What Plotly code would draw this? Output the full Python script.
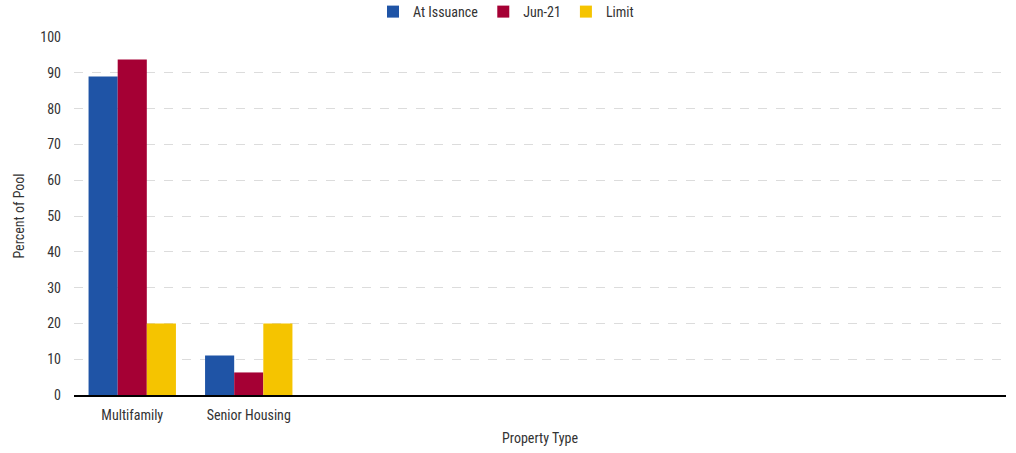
import plotly.graph_objects as go

categories = ["Multifamily", "Senior Housing"]
at_issuance = [89.0, 11.0]
jun_21 = [93.7, 6.3]
limit = [20, 20]
series_names = ["At Issuance", "Jun-21", "Limit"]
colors = ["#1f54a6", "#a50034", "#f5c400"]

FONT = "Roboto Condensed, Liberation Sans Narrow, Roboto, sans-serif"

fig = go.Figure()
for name, vals, col in zip(series_names, [at_issuance, jun_21, limit], colors):
    fig.add_trace(go.Bar(name=name, x=categories, y=vals, marker_color=col,
                         marker_line_width=0))

fig.update_layout(
    width=1016, height=453,
    margin=dict(l=74, r=10, t=37, b=58, autoexpand=False),
    paper_bgcolor="white", plot_bgcolor="white",
    barmode="group", bargap=0.25, bargroupgap=0,
    font=dict(family=FONT, size=14, color="#333333"),
    legend=dict(orientation="h", x=0.4635, xanchor="center", y=0.9735, yanchor="middle",
                yref="container", font=dict(size=14, color="#333333"),
                itemwidth=30, tracegroupgap=0),
    xaxis=dict(type="category", range=[-0.5, 7.5], showgrid=False,
               showline=True, linecolor="#000000", linewidth=1.5,
               ticks="", tickfont=dict(size=14, color="#333333"),
               ticklabelstandoff=6,
               title=dict(text="Property Type", font=dict(size=14, color="#333333"), standoff=12)),
    yaxis=dict(range=[0, 100], dtick=10, showgrid=True, gridcolor="#dcdcdc",
               griddash="dash", gridwidth=1, zeroline=False,
               tickfont=dict(size=14, color="#333333"), ticks="",
               ticklabelstandoff=12,
               title=dict(text="Percent of Pool", font=dict(size=14, color="#333333"), standoff=12)),
)

fig.write_html("out.html", config={"displayModeBar": False},
               post_script="document.body.style.margin='0';document.body.style.overflow='hidden';")
